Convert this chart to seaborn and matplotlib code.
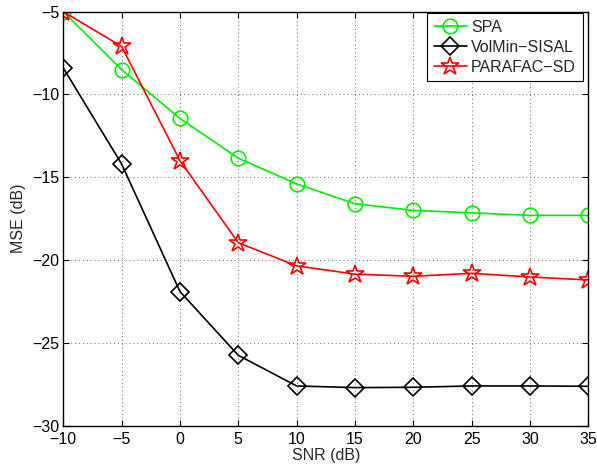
import matplotlib
matplotlib.use("Agg")
import matplotlib.pyplot as plt
import seaborn as sns
import pandas as pd

snr_db = [-10, -5, 0, 5, 10, 15, 20, 25, 30, 35]
mse_spa = [-5.0, -8.5, -11.45, -13.85, -15.4, -16.6, -17.0, -17.15, -17.3, -17.3]
mse_volmin = [-8.4, -14.2, -21.9, -25.75, -27.6, -27.7, -27.68, -27.6, -27.6, -27.62]
mse_parafac = [-5.0, -7.1, -14.0, -18.95, -20.35, -20.85, -20.98, -20.8, -21.02, -21.2]
series_names = ["SPA", "VolMin\u2212SISAL", "PARAFAC\u2212SD"]

x_ticks = [-10, -5, 0, 5, 10, 15, 20, 25, 30, 35]
y_ticks = [-30, -25, -20, -15, -10, -5]

sns.set_theme(style="white")
plt.rcParams["font.family"] = ["Liberation Sans", "DejaVu Sans"]
plt.rcParams["axes.unicode_minus"] = True

FS = 11.5

fig = plt.figure(figsize=(5.97, 4.65), dpi=100)
ax = fig.add_axes([0.106, 0.0845, 0.8795, 0.8905])

styles = [
    (mse_spa, "#00ee00", "o", 10.5),
    (mse_volmin, "black", "D", 9.5),
    (mse_parafac, "#ff0000", "*", 13.5),
]
for name, (vals, col, mk, ms) in zip(series_names, styles):
    df = pd.DataFrame({"snr": snr_db, "mse": vals})
    sns.lineplot(data=df, x="snr", y="mse", ax=ax, color=col, lw=1.2,
                 marker=mk, markersize=ms, markerfacecolor="none",
                 markeredgecolor=col, markeredgewidth=1.2, label=name)

ax.set_xlim(-10, 35)
ax.set_ylim(-30, -5)
ax.set_xticks(x_ticks)
ax.set_yticks(y_ticks)
ax.tick_params(direction="in", length=4, width=0.8, labelsize=FS, colors="black",
               top=True, right=True, bottom=True, left=True)
ax.tick_params(axis="x", pad=4.5)
ax.tick_params(axis="y", pad=3)
ax.grid(True, linestyle=(0, (1, 3)), color="#666666", linewidth=0.7)
for sp in ax.spines.values():
    sp.set_color("black")
    sp.set_linewidth(1.0)

ax.set_xlabel("SNR (dB)", fontsize=FS, labelpad=1)
ax.set_ylabel("MSE (dB)", fontsize=FS, labelpad=4)

leg = ax.legend(loc="upper right", bbox_to_anchor=(0.9893, 0.9961),
                fontsize=FS, frameon=True, fancybox=False,
                edgecolor="black", framealpha=1, handlelength=2.1,
                borderpad=0.42, labelspacing=0.3, handletextpad=0.25,
                borderaxespad=0.0)
leg.get_frame().set_linewidth(0.8)

fig.savefig("out.png", dpi=100)
